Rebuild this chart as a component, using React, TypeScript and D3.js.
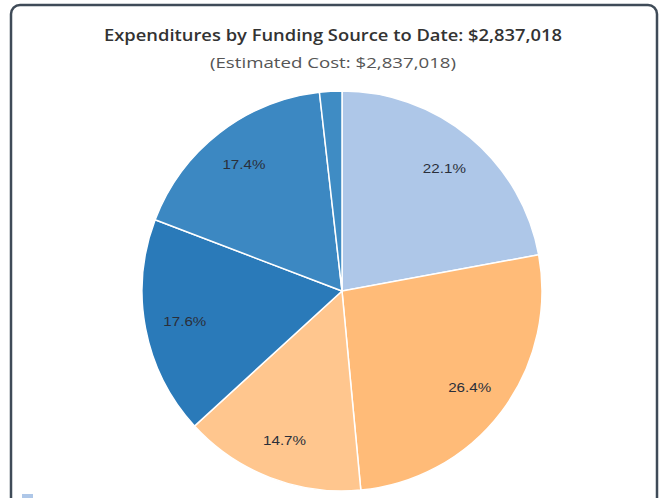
import React from 'react';
import * as d3 from 'd3';

const labels = ['Source A', 'Source B', 'Source C', 'Source D', 'Source E', 'Source F'];
const shares = [22.1, 26.4, 14.7, 17.6, 17.4, 1.8];
const sliceColors = ['#aec7e8', '#ffbb78', '#ffc68e', '#2a7ab9', '#3c88c2', '#3f8cc4'];

const TITLE = 'Expenditures by Funding Source to Date: $2,837,018';
const SUBTITLE = '(Estimated Cost: $2,837,018)';

const W = 667;
const H = 498;

export default function App() {
  const cx = 342;
  const cy = 291;
  const r = 200;

  const pie = d3.pie<number>().sort(null).value((d) => d)(shares);
  const arc = d3.arc<d3.PieArcDatum<number>>().innerRadius(0).outerRadius(r);
  const labelArc = d3.arc<d3.PieArcDatum<number>>().innerRadius(r * 0.8).outerRadius(r * 0.8);

  return (
    <svg width={W} height={H} style={{ position: 'absolute', left: 0, top: 0 }}>
      <rect x={0} y={0} width={W} height={H} fill="#fff" />
      <rect x={11} y={5} width={646} height={520} rx={9} fill="#fff" stroke="#3f4b58" strokeWidth={2.5} />
      <text x={333} y={41} textAnchor="middle" fontFamily="'Open Sans', sans-serif" fontWeight={600}
        fontSize={16.5} fill="#333" textLength={458} lengthAdjust="spacingAndGlyphs">{TITLE}</text>
      <text x={333} y={68} textAnchor="middle" fontFamily="'Open Sans', sans-serif"
        fontSize={15} fill="#555" textLength={246} lengthAdjust="spacingAndGlyphs">{SUBTITLE}</text>
      <g transform={`translate(${cx},${cy})`}>
        {pie.map((d, i) => (
          <path key={labels[i]} d={arc(d) || ''} fill={sliceColors[i]} stroke="#fff" strokeWidth={1.5} />
        ))}
        {pie.map((d, i) => {
          if (shares[i] < 5) return null;
          const [x, y] = labelArc.centroid(d);
          return (
            <text key={'l' + i} x={x} y={y} dy="0.35em" textAnchor="middle"
              fontFamily="'Liberation Sans', Arial, sans-serif" fontSize={13} fill="#2a2f3a"
              textLength={43} lengthAdjust="spacingAndGlyphs">
              {d3.format('.1f')(shares[i])}%
            </text>
          );
        })}
      </g>
      <rect x={22} y={494} width={11} height={10} fill="#aec7e8" />
    </svg>
  );
}
